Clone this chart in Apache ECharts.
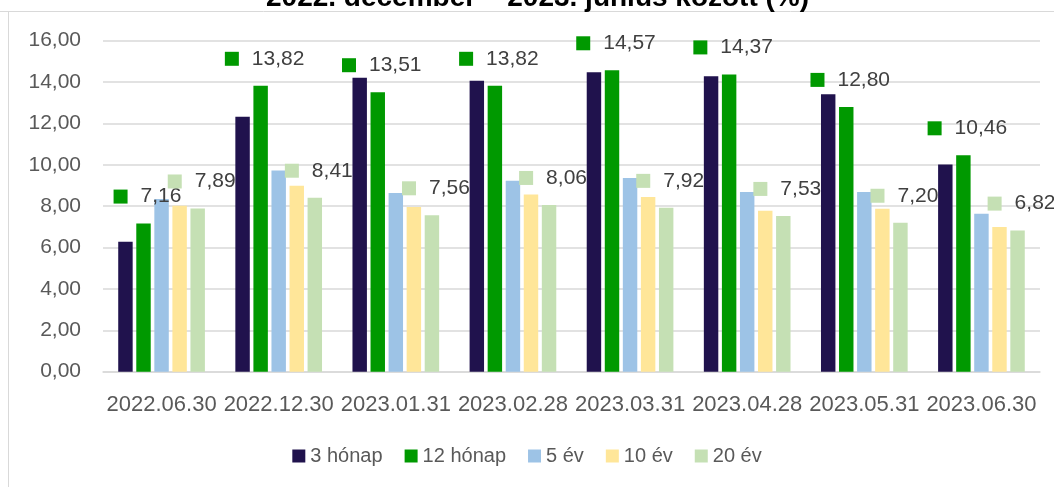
<!DOCTYPE html>
<html>
<head>
<meta charset="utf-8">
<script src="https://cdn.jsdelivr.net/npm/echarts@6/dist/echarts.min.js"></script>
<style>
html,body{margin:0;padding:0;background:#fff;}
#main{width:1054px;height:487px;}
</style>
</head>
<body>
<div id="main"></div>
<script>
var titleText = '2022. december – 2023. június között (%)';
var dates = ['2022.06.30','2022.12.30','2023.01.31','2023.02.28','2023.03.31','2023.04.28','2023.05.31','2023.06.30'];
var names = ['3 hónap','12 hónap','5 év','10 év','20 év'];
var colors = ['#20124d','#009900','#9dc3e6','#ffe699','#c5e0b4'];
var m3  = [6.28,12.32,14.21,14.06,14.47,14.28,13.41,10.02];
var m12 = [7.16,13.82,13.51,13.82,14.57,14.37,12.80,10.46];
var y5  = [8.35,9.72,8.64,9.23,9.36,8.69,8.69,7.64];
var y10 = [8.02,8.99,7.96,8.56,8.44,7.78,7.88,6.99];
var y20 = [7.89,8.41,7.56,8.06,7.92,7.53,7.20,6.82];
var yTicks = [0,2,4,6,8,10,12,14,16];

var FONT = '"Liberation Sans", Arial, sans-serif';

function huNum(v){
	return v.toFixed(2).replace('.', ',');
}

// címke: színes négyzet + érték (mint az Excel jelmagyarázat-kulcs)
function makeLabel(color){
	return {
		show: true,
		position: 'top',
		distance: 16,
		offset: [4, 0],
		formatter: function(p){ return '{s|}{v|' + huNum(p.value) + '}'; },
		rich: {
			s: {width: 14, height: 14, backgroundColor: color},
			v: {fontFamily: FONT, fontSize: 21, color: '#404040', padding: [0,0,0,13], lineHeight: 22}
		}
	};
}

function initChart(){
	var allData = [m3, m12, y5, y10, y20];
	var series = [];
	for(var i=0;i<names.length;i++){
		var s = {
			name: names[i],
			type: 'bar',
			barCategoryGap: '26%',
			barGap: '25%',
			itemStyle: {color: colors[i]},
			data: allData[i]
		};
		// csak a 12 hónapos és a 20 éves sor kap címkét
		if(i==1 || i==4){
			s.label = makeLabel(colors[i]);
		}
		series.push(s);
	}

	var option = {
		animation: false,
		title: {
			text: titleText,
			left: 266,
			top: -16,
			padding: 0,
			textStyle: {fontFamily: FONT, fontSize: 28, fontWeight: 'bold', color: '#000'}
		},
		graphic: [
			{type: 'line', shape: {x1: 0, y1: 11.5, x2: 1054, y2: 11.5}, style: {stroke: '#d9d9d9', lineWidth: 1}},
			{type: 'line', shape: {x1: 8.5, y1: 11.5, x2: 8.5, y2: 487}, style: {stroke: '#d9d9d9', lineWidth: 1}}
		],
		legend: {
			data: names,
			left: 'center',
			top: 441,
			itemWidth: 13,
			itemHeight: 13,
			itemGap: 22,
			icon: 'rect',
			textStyle: {fontFamily: FONT, fontSize: 20, color: '#595959'}
		},
		grid: {
			left: 103,
			right: 14,
			top: 40.7,
			bottom: 115.3,
			containLabel: false
		},
		xAxis: {
			type: 'category',
			data: dates,
			axisTick: {show: false},
			axisLine: {lineStyle: {color: '#d9d9d9', width: 1.5}},
			axisLabel: {fontFamily: FONT, fontSize: 22, color: '#595959', margin: 22, interval: 0}
		},
		yAxis: {
			type: 'value',
			min: yTicks[0],
			max: yTicks[yTicks.length-1],
			interval: 2,
			axisLine: {show: false},
			axisTick: {show: false},
			splitLine: {lineStyle: {color: '#d9d9d9', width: 1.5}},
			axisLabel: {fontFamily: FONT, fontSize: 21, color: '#595959', margin: 22, formatter: function(v){ return huNum(v); }}
		},
		series: series
	};

	var myChart = echarts.init(document.getElementById('main'));
	myChart.setOption(option);
}

initChart();
</script>
</body>
</html>
